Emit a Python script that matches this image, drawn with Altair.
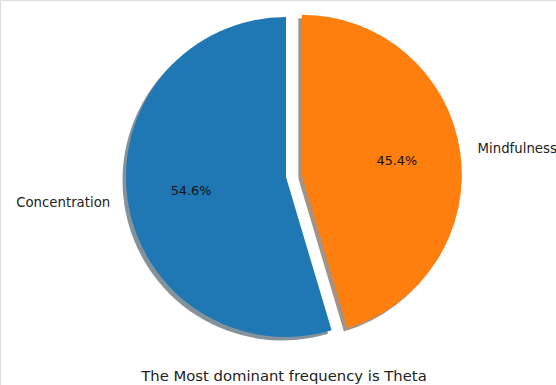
import altair as alt
import pandas as pd

labels = ["Concentration", "Mindfulness"]
sizes = [54.6, 45.4]
explode = [0.0, 0.1]
order = [2, 1]  # clockwise from 12 o'clock: Mindfulness first, then Concentration
title_text = "The Most dominant frequency is Theta"

colors = ["#1f77b4", "#ff7f0e"]
shadow_colors = ["#84929b", "#a69282"]

W, H = 556, 385
CX, CY, R = 286, 177, 160
SH = 3.5  # shadow offset in px

df = pd.DataFrame({"label": labels, "size": sizes, "explode": explode, "order": order})

base = (
    alt.Chart(df)
    .transform_stack(stack="size", as_=["s0", "s1"], groupby=[], sort=[alt.SortField("order")])
    .transform_joinaggregate(total="sum(size)")
    .transform_calculate(
        a0="datum.s0 / datum.total * 2 * PI",
        a1="datum.s1 / datum.total * 2 * PI",
    )
    .transform_calculate(mid="(datum.a0 + datum.a1) / 2")
    .transform_calculate(
        cx=f"{CX} + datum.explode * {R} * sin(datum.mid)",
        cy=f"{CY} - datum.explode * {R} * cos(datum.mid)",
    )
    .transform_calculate(
        lx=f"datum.cx + 1.11 * {R} * sin(datum.mid)",
        ly=f"datum.cy - 1.11 * {R} * cos(datum.mid)",
        px=f"datum.cx + 0.6 * {R} * sin(datum.mid)",
        py=f"datum.cy - 0.6 * {R} * cos(datum.mid)",
        pct="format(datum.size / datum.total * 100, '.1f') + '%'",
        sx=f"datum.cx - {SH}",
        sy=f"datum.cy + {SH}",
    )
)

shadow = base.mark_arc(radius=R).encode(
    theta=alt.Theta("a0:Q", scale=None),
    theta2="a1:Q",
    x=alt.X("sx:Q", scale=None, axis=None),
    y=alt.Y("sy:Q", scale=None, axis=None),
    fill=alt.Fill("label:N", scale=alt.Scale(domain=labels, range=shadow_colors), legend=None),
)

slices = base.mark_arc(radius=R).encode(
    theta=alt.Theta("a0:Q", scale=None),
    theta2="a1:Q",
    x=alt.X("cx:Q", scale=None, axis=None),
    y=alt.Y("cy:Q", scale=None, axis=None),
    color=alt.Color("label:N", scale=alt.Scale(domain=labels, range=colors), legend=None),
)

font = "DejaVu Sans"
LFS = 13.3
lab_left = base.transform_filter("sin(datum.mid) < 0").mark_text(
    align="right", baseline="middle", font=font, fontSize=LFS, color="#222222"
).encode(
    x=alt.X("lx:Q", scale=None, axis=None),
    y=alt.Y("ly:Q", scale=None, axis=None),
    text="label:N",
)
lab_right = base.transform_filter("sin(datum.mid) >= 0").mark_text(
    align="left", baseline="middle", font=font, fontSize=LFS, color="#222222"
).encode(
    x=alt.X("lx:Q", scale=None, axis=None),
    y=alt.Y("ly:Q", scale=None, axis=None),
    text="label:N",
)
pcts = base.mark_text(
    align="center", baseline="middle", font=font, fontSize=12.8, color="#111111"
).encode(
    x=alt.X("px:Q", scale=None, axis=None),
    y=alt.Y("py:Q", scale=None, axis=None),
    text="pct:N",
)

title_df = pd.DataFrame({"t": [title_text]})
title = alt.Chart(title_df).mark_text(
    align="center", baseline="alphabetic", font=font, fontSize=14.8, color="#222222"
).encode(
    x=alt.value(284),
    y=alt.value(381),
    text="t:N",
)

chart = (
    alt.layer(shadow, slices, lab_left, lab_right, pcts, title)
    .resolve_scale(color="independent", fill="independent")
    .properties(width=W, height=H, padding=0, autosize=alt.AutoSizeParams(type="none"))
    .configure_view(stroke=None)
    .configure(background="white")
)

chart.save("out.html", embed_options={"renderer": "svg", "actions": False})
